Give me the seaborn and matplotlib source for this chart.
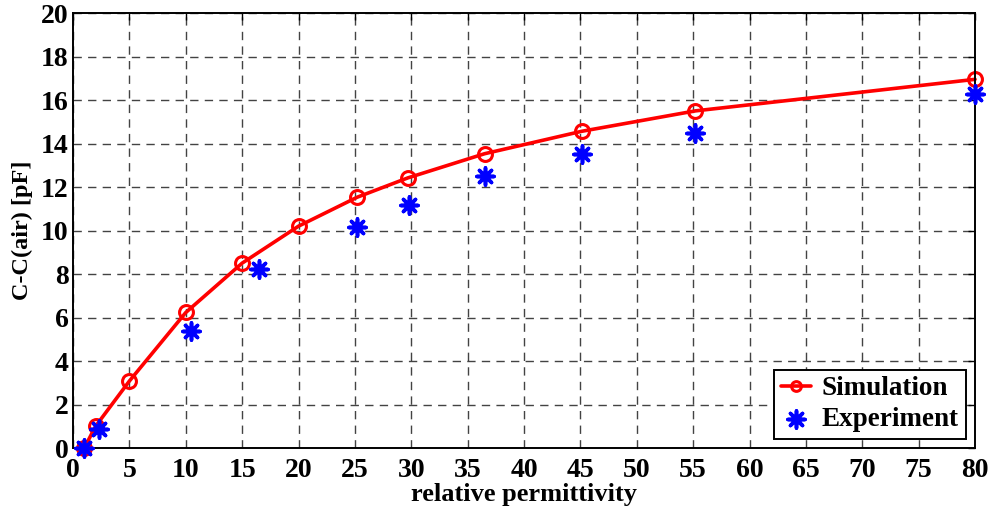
import matplotlib
matplotlib.use("Agg")
import matplotlib.pyplot as plt
import seaborn as sns
import pandas as pd

# Simulated capacitance change vs. relative permittivity
sim_eps = [1, 2, 5, 10, 15, 20, 25.2, 29.7, 36.5, 45.1, 55.2, 80]
sim_dc = [0.0, 1.0, 3.08, 6.23, 8.5, 10.2, 11.53, 12.42, 13.53, 14.56, 15.5, 16.95]

# Measured capacitance change
exp_eps = [1, 2.3, 10.5, 16.5, 25.2, 29.8, 36.5, 45.1, 55.2, 80]
exp_dc = [0.0, 0.87, 5.38, 8.23, 10.15, 11.15, 12.5, 13.5, 14.5, 16.28]

x_ticks = list(range(0, 81, 5))
y_ticks = list(range(0, 21, 2))

sim = pd.DataFrame({"eps": sim_eps, "dc": sim_dc})
exp = pd.DataFrame({"eps": exp_eps, "dc": exp_dc})

sns.set_theme(style="white")
plt.rcParams["font.family"] = ["Liberation Serif", "DejaVu Serif"]
plt.rcParams["font.weight"] = "bold"
plt.rcParams["text.color"] = "black"
plt.rcParams["axes.labelcolor"] = "black"
plt.rcParams["xtick.color"] = "black"
plt.rcParams["ytick.color"] = "black"

fig = plt.figure(figsize=(9.91, 5.12), dpi=100)
ax = fig.add_axes([0.0737, 0.125, 0.9102, 0.8496])

sns.lineplot(data=sim, x="eps", y="dc", ax=ax, color="red", lw=2.6,
             marker="o", markersize=10, markerfacecolor="none",
             markeredgecolor="red", markeredgewidth=2.2, label="Simulation",
             sort=False)
sns.scatterplot(data=exp, x="eps", y="dc", ax=ax, color="blue",
                marker=(8, 2, 0), s=150, linewidth=2.6, edgecolor="blue",
                label="Experiment", zorder=4, clip_on=False)
for ln in ax.lines:
    ln.set_clip_on(False)

ax.set_xlim(0, 80)
ax.set_ylim(0, 20)
ax.set_xticks(x_ticks)
ax.set_yticks(y_ticks)
ax.tick_params(direction="in", length=5, width=1, top=True, right=True,
               labelsize=20, colors="black")
ax.tick_params(axis="x", pad=7)
ax.tick_params(axis="y", pad=3)
for lab in ax.get_xticklabels() + ax.get_yticklabels():
    lab.set_fontweight("bold")

ax.grid(True, color="#222222", linestyle=(0, (6, 4.5)), linewidth=1.0, alpha=0.85)
for sp in ax.spines.values():
    sp.set_visible(True)
    sp.set_color("black")
    sp.set_linewidth(1.4)

ax.set_xlabel("relative permittivity", fontsize=19, fontweight="bold",
              labelpad=0, color="black")
ax.set_ylabel("C-C(air) [pF]", fontsize=17.5, fontweight="bold",
              labelpad=6, color="black")

leg = ax.legend(loc="lower right", frameon=True, fancybox=False,
                edgecolor="black", framealpha=1, borderpad=0.25,
                handlelength=1.1, handletextpad=0.4, labelspacing=0.2,
                borderaxespad=0.35, prop={"weight": "bold", "size": 19.5})
leg.get_frame().set_linewidth(1.4)
for t in leg.get_texts():
    t.set_color("black")
for h in leg.legend_handles:
    if hasattr(h, "set_markersize"):
        h.set_markersize(7)

fig.savefig("out.png", dpi=100)
